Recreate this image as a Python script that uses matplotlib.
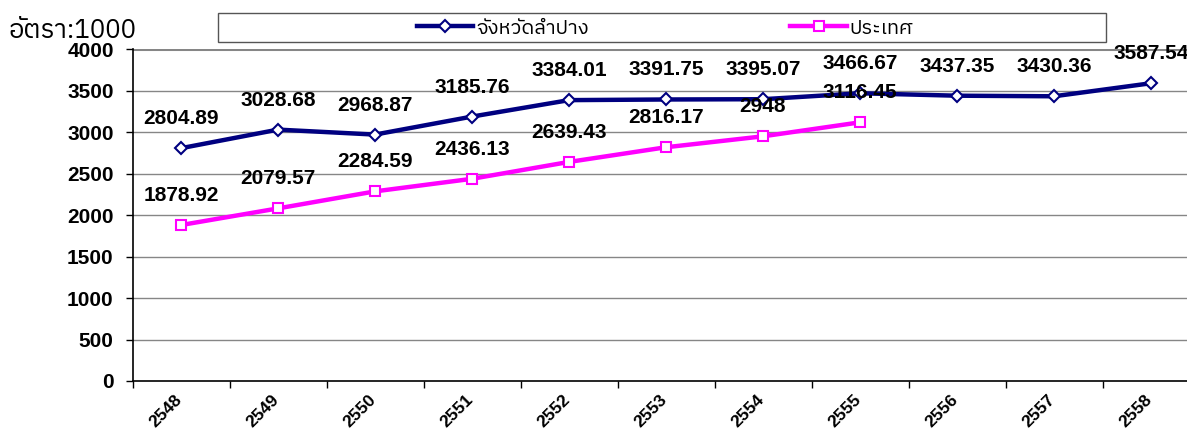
import matplotlib
matplotlib.use("Agg")
import matplotlib.pyplot as plt
from matplotlib import font_manager, ft2font
from matplotlib.patches import Rectangle
import matplotlib.transforms as mtransforms
import numpy as np

# ---------------- data ----------------
years = ["2548", "2549", "2550", "2551", "2552", "2553", "2554", "2555", "2556", "2557", "2558"]
lampang = [2804.89, 3028.68, 2968.87, 3185.76, 3384.01, 3391.75, 3395.07, 3466.67, 3437.35, 3430.36, 3587.54]
country = [1878.92, 2079.57, 2284.59, 2436.13, 2639.43, 2816.17, 2948, 3116.45]
lampang_labels = ["2804.89", "3028.68", "2968.87", "3185.76", "3384.01", "3391.75", "3395.07", "3466.67", "3437.35", "3430.36", "3587.54"]
country_labels = ["1878.92", "2079.57", "2284.59", "2436.13", "2639.43", "2816.17", "2948", "3116.45"]
series_names = ["จังหวัดลำปาง", "ประเทศ"]
title_text = "อัตรา:1000"
yticks = [0, 500, 1000, 1500, 2000, 2500, 3000, 3500, 4000]

# ---------------- fonts ----------------
def find_thai_font():
    preferred = []
    others = []
    for path in font_manager.findSystemFonts():
        try:
            f = ft2font.FT2Font(path)
            cm = f.get_charmap()
        except Exception:
            continue
        if 0x0E08 in cm and 0x0E1B in cm:
            name = font_manager.FontProperties(fname=path).get_name()
            if "Sans" in name or "sans" in path.lower():
                preferred.append(name)
            else:
                others.append(name)
    for lst in (preferred, others):
        if lst:
            return lst[0]
    return None

thai = find_thai_font()
thai_family = [thai, "DejaVu Sans"] if thai else ["DejaVu Sans"]
label_family = ["Liberation Sans", "DejaVu Sans"]

plt.rcParams["font.family"] = label_family

W, H = 1187, 433
fig = plt.figure(figsize=(W / 100, H / 100), dpi=100)
x0, x1 = 132.5, 1199.5
ytop, ybot = 49, 381
ax = fig.add_axes([x0 / W, (H - ybot) / H, (x1 - x0) / W, (ybot - ytop) / H])

x = np.arange(len(years))
ax.set_xlim(-0.5, len(years) - 0.5)
ax.set_ylim(0, 4000)

for v in yticks[1:]:
    ax.axhline(v, color="#868686", lw=1.0 if v < 4000 else 2.2, zorder=1)

l1, = ax.plot(x, lampang, color="#000080", lw=3.2, marker="D", markersize=5.8,
              markerfacecolor="white", markeredgecolor="#000080", markeredgewidth=1.5,
              zorder=3, label=series_names[0])
l2, = ax.plot(x[:len(country)], country, color="#FF00FF", lw=3.2, marker="s", markersize=6.5,
              markerfacecolor="white", markeredgecolor="#FF00FF", markeredgewidth=1.5,
              zorder=3, label=series_names[1])

for xi, v, t in zip(x, lampang, lampang_labels):
    ax.annotate(t, (xi, v), xytext=(0, 29.5), textcoords="offset pixels",
                ha="center", va="center", fontsize=15, fontweight="bold", zorder=5)
for xi, v, t in zip(x, country, country_labels):
    ax.annotate(t, (xi, v), xytext=(0, 29.5), textcoords="offset pixels",
                ha="center", va="center", fontsize=15, fontweight="bold", zorder=5)

for s in ["top", "right"]:
    ax.spines[s].set_visible(False)
ax.spines["left"].set_color("black")
ax.spines["bottom"].set_color("black")
ax.spines["left"].set_linewidth(1.2)
ax.spines["bottom"].set_linewidth(1.2)

ax.set_yticks(yticks)
ax.set_yticklabels([str(v) for v in yticks], fontsize=15, fontweight="bold")
ax.tick_params(axis="y", length=5, width=1, pad=8.5)

ax.set_xticks(x)
ax.set_xticks(np.arange(len(years) + 1) - 0.5, minor=True)
ax.set_xticklabels(years, rotation=45, ha="right", rotation_mode="anchor",
                   fontsize=12.5, fontweight="bold")
ax.tick_params(axis="x", which="major", length=0, pad=8)
ax.tick_params(axis="x", which="minor", length=5, width=1)
shift = mtransforms.ScaledTranslation(-7 / 100, 0, fig.dpi_scale_trans)
for lab in ax.get_xticklabels():
    lab.set_transform(lab.get_transform() + shift)

fig.text(9 / W, 1 - 31 / H, title_text, fontsize=18.6, family=thai_family,
         ha="left", va="center")

# legend box
fig.patches.append(Rectangle((218 / W, 1 - 42 / H), (1106 - 218) / W, 29 / H,
                             transform=fig.transFigure, fill=False,
                             edgecolor="#555555", lw=1.0))
leg = fig.legend(handles=[l1, l2], labels=series_names, ncol=2,
                 loc="center", bbox_to_anchor=(665 / W, 1 - 28 / H),
                 prop={"family": thai_family, "size": 14.5}, frameon=False,
                 handlelength=2.8, columnspacing=10, borderpad=0.2, handletextpad=0.15)

fig.savefig("out.png", dpi=100)
